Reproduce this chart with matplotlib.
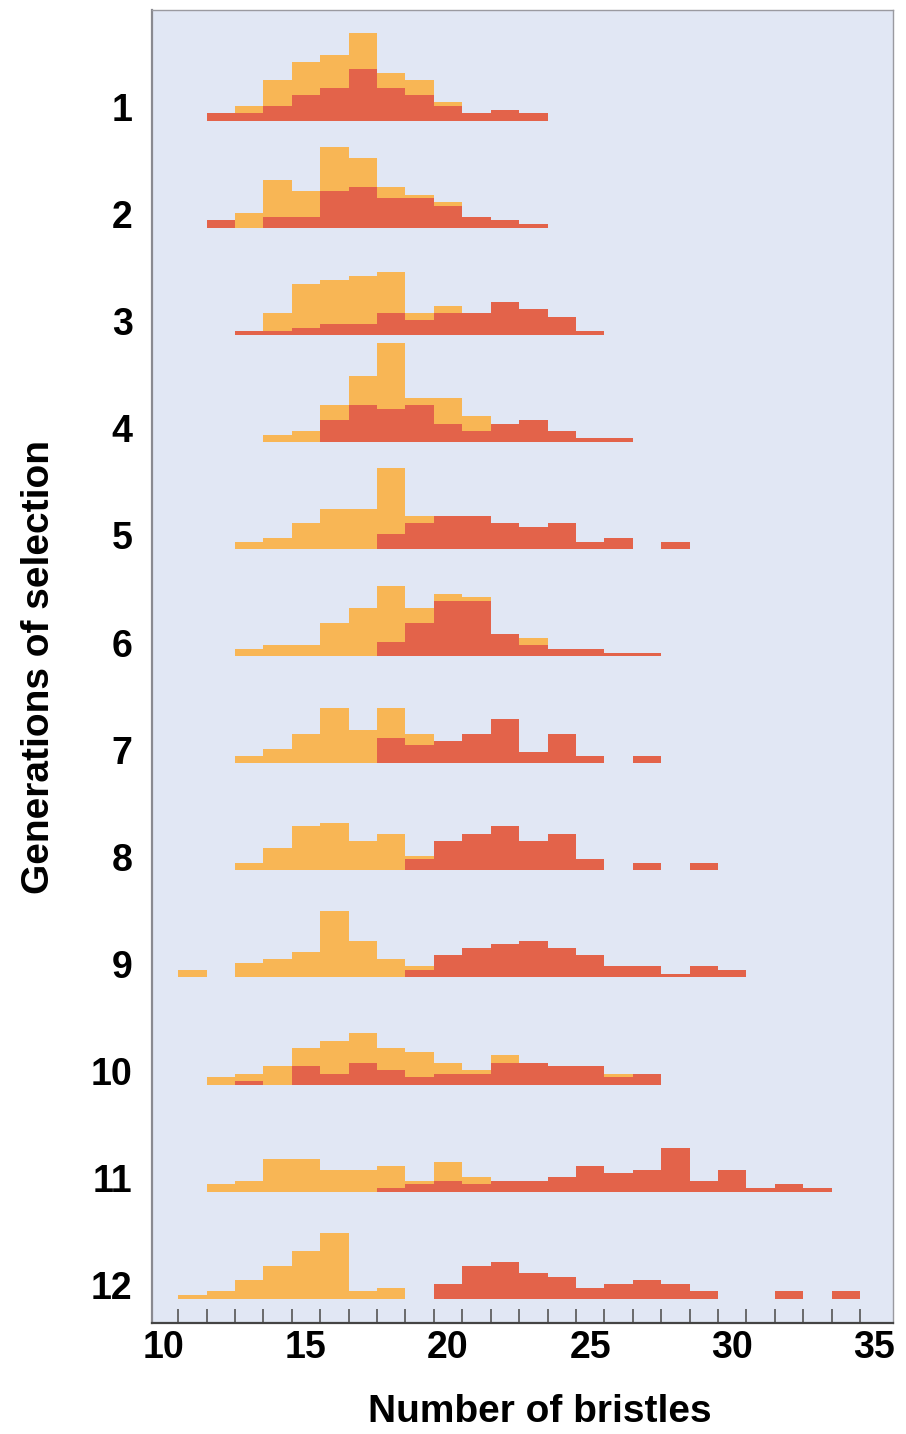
import numpy as np
import matplotlib
matplotlib.use("Agg")
import matplotlib.pyplot as plt

plt.rcParams['font.family'] = ['Liberation Sans', 'DejaVu Sans']

# bristle classes (bins centred on integers)
bristles = list(range(11, 35))
generations = list(range(1, 13))

# bar heights, one row per generation, bins 11..34
orange_counts = [
    [0, 0, 4, 11, 16, 18, 24, 13, 11, 5],
    [0, 0, 4, 13, 10, 22, 19, 11, 9, 7],
    [0, 0, 0, 6, 14, 15, 16, 17, 6, 8],
    [0, 0, 0, 2, 3, 10, 18, 27, 12, 12, 7],
    [0, 0, 2, 3, 7, 11, 11, 22, 9],
    [0, 0, 2, 3, 3, 9, 13, 19, 13, 17, 16, 0, 5],
    [0, 0, 2, 4, 8, 15, 9, 15, 8],
    [0, 0, 2, 6, 12, 13, 8, 10, 4],
    [2, 0, 4, 5, 7, 18, 10, 5, 3],
    [0, 2, 3, 5, 10, 12, 14, 10, 9, 6, 4, 8, 0, 0, 0, 3],
    [0, 2, 3, 9, 9, 6, 6, 7, 3, 8, 4],
    [1, 2, 5, 9, 13, 18, 2, 3],
]
red_counts = [
    [0, 2, 2, 4, 7, 9, 14, 9, 7, 4, 2, 3, 2],
    [0, 2, 0, 3, 3, 10, 11, 8, 8, 6, 3, 2, 1],
    [0, 0, 1, 1, 2, 3, 3, 6, 4, 6, 6, 9, 7, 5, 1],
    [0, 0, 0, 0, 0, 6, 10, 9, 10, 5, 3, 5, 6, 3, 1, 1],
    [0, 0, 0, 0, 0, 0, 0, 4, 7, 9, 9, 7, 6, 7, 2, 3, 0, 2],
    [0, 0, 0, 0, 0, 0, 0, 4, 9, 15, 15, 6, 3, 2, 2, 1, 1],
    [0, 0, 0, 0, 0, 0, 0, 7, 5, 6, 8, 12, 3, 8, 2, 0, 2],
    [0, 0, 0, 0, 0, 0, 0, 0, 3, 8, 10, 12, 8, 10, 3, 0, 2, 0, 2],
    [0, 0, 0, 0, 0, 0, 0, 0, 2, 6, 8, 9, 10, 8, 6, 3, 3, 1, 3, 2],
    [0, 0, 1, 0, 5, 3, 6, 4, 2, 3, 3, 6, 6, 5, 5, 2, 3],
    [0, 0, 0, 0, 0, 0, 0, 1, 2, 3, 2, 3, 3, 4, 7, 5, 6, 12, 3, 6, 1, 2, 1, 0],
    [0, 0, 0, 0, 0, 0, 0, 0, 0, 4, 9, 10, 7, 6, 3, 4, 5, 4, 2, 0, 0, 2, 0, 2],
]

ORANGE = '#F8B655'
RED = '#E3634A'
BG = '#E1E7F4'
step = 29.2  # vertical distance between generations

def pad(row):
    return np.array(row + [0] * (len(bristles) - len(row)), dtype=float)

fig = plt.figure(figsize=(9.06, 14.34), dpi=100)
ax = fig.add_axes([152/906, 1 - 1323/1434, 741/906, 1313/1434])
ax.set_facecolor(BG)

x = np.array(bristles)
for i, g in enumerate(generations):
    base = -i * step
    o = pad(orange_counts[i])
    r = pad(red_counts[i])
    m = o > 0
    ax.bar(x[m], o[m], width=1.0, bottom=base, color=ORANGE, linewidth=0)
    m = r > 0
    ax.bar(x[m], r[m], width=1.0, bottom=base, color=RED, linewidth=0)

ax.set_xlim(9.58, 35.66)
ax.set_ylim(-11 * step - (1323 - 1298.8) / 3.67, (120.7 - 10) / 3.67)

ax.set_xticks([10, 15, 20, 25, 30, 35])
ax.set_xticks(np.arange(10.5, 35, 1), minor=True)
ax.tick_params(axis='x', which='major', length=0, pad=5, labelsize=27)
ax.tick_params(axis='x', which='minor', direction='in', length=10, width=1.2, color='#555555')
for lab in ax.get_xticklabels():
    lab.set_fontweight('bold')

ax.set_yticks([-i * step + 3.7 for i in range(len(generations))])
ax.set_yticklabels([str(g) for g in generations], fontsize=27, fontweight='bold')
ax.tick_params(axis='y', length=0, pad=14)

for s in ['top', 'right']:
    ax.spines[s].set_color('#9a9aa0')
    ax.spines[s].set_linewidth(1.0)
ax.spines['left'].set_color('#8a8a90')
ax.spines['left'].set_linewidth(1.6)
ax.spines['bottom'].set_color('#444444')
ax.spines['bottom'].set_linewidth(1.6)

ax.set_xlabel('Number of bristles', fontsize=28, fontweight='bold', labelpad=20)
ax.xaxis.label.set_x(0.524)
ax.set_ylabel('Generations of selection', fontsize=28, fontweight='bold', labelpad=24)

fig.savefig('out.png', dpi=100, facecolor='white')
